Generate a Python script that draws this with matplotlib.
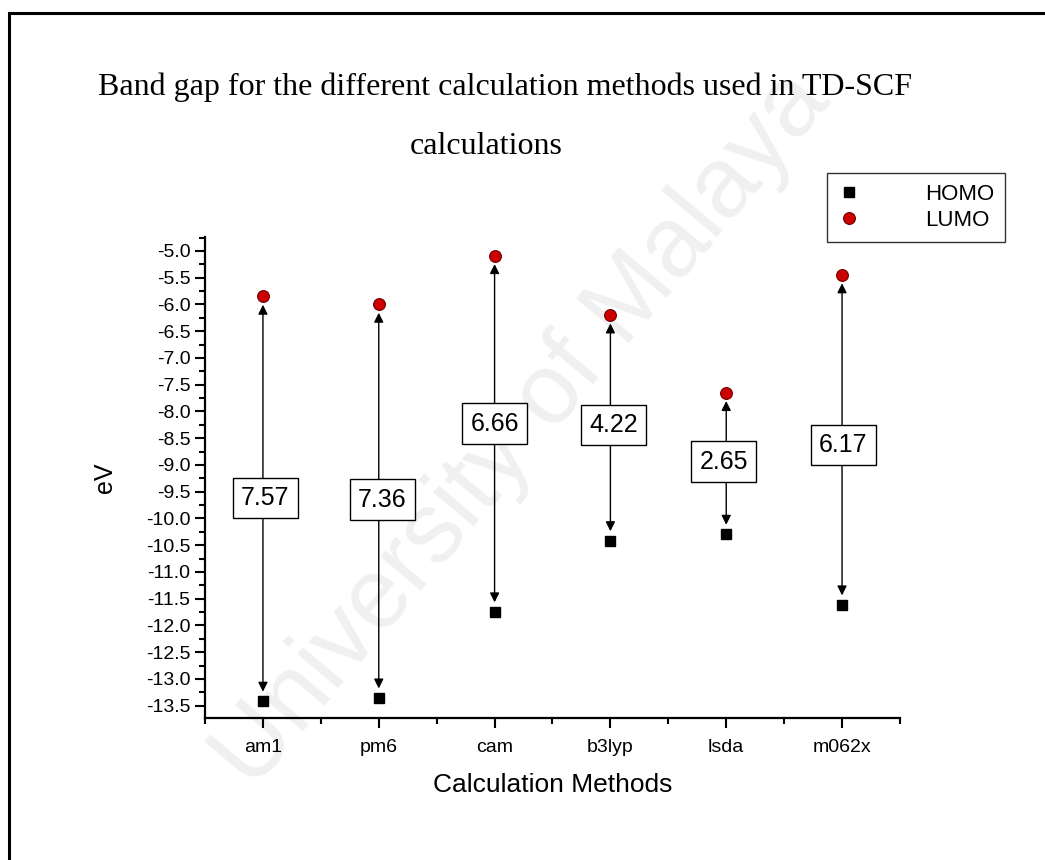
import matplotlib
matplotlib.use("Agg")
import matplotlib.pyplot as plt
from matplotlib.patches import Rectangle
from matplotlib.ticker import MultipleLocator, FormatStrFormatter

# values
methods = ["am1", "pm6", "cam", "b3lyp", "lsda", "m062x"]
homo = [-13.42, -13.36, -11.75, -10.42, -10.30, -11.62]
lumo = [-5.85, -6.00, -5.09, -6.20, -7.65, -5.45]
gaps = [7.57, 7.36, 6.66, 4.22, 2.65, 6.17]

# where the gap boxes sit (layout only)
label_y = [-9.62, -9.65, -8.23, -8.25, -8.94, -8.63]
label_dx = [0.02, 0.03, 0.0, 0.03, -0.02, 0.01]

plt.rcParams["font.family"] = "Liberation Sans"

fig = plt.figure(figsize=(10.45, 8.6), dpi=100)
ax = fig.add_axes([0.1962, 0.1651, 0.665, 0.5593])
ax.set_facecolor("none")

x = list(range(1, len(methods) + 1))

# arrows between HOMO and LUMO
for xi, h, l in zip(x, homo, lumo):
    ax.annotate("", xy=(xi, l), xytext=(xi, h),
                arrowprops=dict(arrowstyle="<|-|>", color="black", lw=1.0,
                                mutation_scale=14, shrinkA=7, shrinkB=6),
                zorder=2)

for xi, g, ly, dx in zip(x, gaps, label_y, label_dx):
    ax.text(xi + dx, ly, f"{g:.2f}", ha="center", va="center", fontsize=18,
            bbox=dict(boxstyle="square,pad=0.33", fc="white", ec="black", lw=1.0),
            zorder=3)

ax.plot(x, homo, ls="none", marker="s", ms=7.5, color="black", label="HOMO", zorder=4)
ax.plot(x, lumo, ls="none", marker="o", ms=8.5, mfc="#cc0000", mec="#700000",
        mew=0.8, label="LUMO", zorder=4)

ax.set_xlim(0.5, 6.5)
ax.set_ylim(-13.73, -4.74)
ax.set_xticks(x)
ax.set_xticklabels(methods)
ax.xaxis.set_minor_locator(MultipleLocator(0.5))
ax.yaxis.set_major_locator(MultipleLocator(0.5))
ax.yaxis.set_minor_locator(MultipleLocator(0.25))
ax.yaxis.set_major_formatter(FormatStrFormatter("%.1f"))
ax.tick_params(which="major", direction="out", length=7, width=1.5, labelsize=14)
ax.tick_params(axis="x", which="major", pad=8)
ax.tick_params(which="minor", direction="out", length=4, width=1.5)
for s in ["top", "right"]:
    ax.spines[s].set_visible(False)
for s in ["left", "bottom"]:
    ax.spines[s].set_linewidth(1.6)

ax.set_xlabel("Calculation Methods", fontsize=19, labelpad=12)
ax.set_ylabel("eV", fontsize=18, labelpad=21)

leg = ax.legend(loc="upper right", bbox_to_anchor=(1005 / 1045, 1 - 173 / 860),
                bbox_transform=fig.transFigure, fontsize=16, frameon=True,
                fancybox=False, edgecolor="black", handletextpad=2.9,
                borderpad=0.5, labelspacing=0.2, handlelength=1.0,
                borderaxespad=0)
leg.get_frame().set_linewidth(1.0)

fig.text(505 / 1045, 1 - 87 / 860,
         "Band gap for the different calculation methods used in TD-SCF",
         family="Liberation Serif", fontsize=23, ha="center", va="center")
fig.text(486 / 1045, 1 - 146 / 860, "calculations",
         family="Liberation Serif", fontsize=23, ha="center", va="center")

# faint watermark
fig.text(0.5, 0.5, "University of Malaya", fontsize=72, color="#f0f0f0",
         rotation=50, ha="center", va="center", zorder=-10)

fig.add_artist(Rectangle((9 / 1045, -0.1), 1.2, 1 - 13 / 860 + 0.1,
                         transform=fig.transFigure, fill=False, ec="black",
                         lw=2.2, clip_on=False))

fig.savefig("out.png", dpi=100)
